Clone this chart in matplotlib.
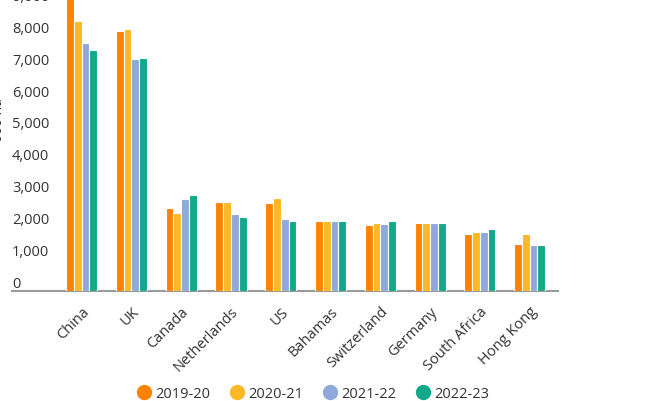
import matplotlib
matplotlib.use("Agg")
import matplotlib.pyplot as plt
from matplotlib.lines import Line2D
import numpy as np

plt.rcParams['font.family'] = ['Open Sans', 'DejaVu Sans']

categories = ["China", "UK", "Canada", "Netherlands", "US", "Bahamas",
              "Switzerland", "Germany", "South Africa", "Hong Kong"]
series_names = ["2019-20", "2020-21", "2021-22", "2022-23"]
v2019 = [9400, 8150, 2610, 2800, 2750, 2190, 2080, 2130, 1800, 1460]
v2020 = [8460, 8210, 2450, 2800, 2920, 2190, 2140, 2130, 1860, 1790]
v2021 = [7780, 7270, 2880, 2400, 2250, 2190, 2110, 2130, 1860, 1430]
v2022 = [7550, 7300, 3000, 2330, 2200, 2190, 2180, 2130, 1930, 1430]
series = [v2019, v2020, v2021, v2022]
colors = ["#FF8300", "#FDB825", "#8EA9DB", "#12A98B"]
yticks = [0, 1000, 2000, 3000, 4000, 5000, 6000, 7000, 8000, 9000]
ylabel = "'000 ha"

W, H = 652, 402
fig = plt.figure(figsize=(W / 100, H / 100), dpi=100)
left, right = 12 / W, 558 / W
bottom = 1 - 292 / H
top = 1 + 27 / H
ax = fig.add_axes([left, bottom, right - left, top - bottom])
ax.set_facecolor('none')

x = np.arange(len(categories))
bw = 0.156
for i, (vals, c) in enumerate(zip(series, colors)):
    ax.bar(x + (i - 1.5) * bw, vals, width=bw, color=c, edgecolor='white',
           linewidth=0.8, zorder=3)

ax.set_xlim(-1.40, 9.57)
ax.set_ylim(0, 10000)

for s in ['top', 'right', 'left']:
    ax.spines[s].set_visible(False)
ax.spines['bottom'].set_color('#9a9a9a')
ax.spines['bottom'].set_linewidth(1.5)

ax.set_yticks(yticks)
ax.set_yticklabels([f"{v:,}" for v in yticks])
ax.tick_params(axis='y', length=0, pad=0, labelsize=10.5, labelcolor='#333333')
for lbl in ax.get_yticklabels():
    lbl.set_ha('left')
    lbl.set_va('bottom')

ax.set_xticks(x)
ax.set_xticklabels(categories, rotation=45, ha='right', va='top',
                   rotation_mode='anchor')
ax.tick_params(axis='x', length=0, pad=9, labelsize=10.5, labelcolor='#333333')

fig.text(-0.002, 1 - 122 / H, ylabel, rotation=90, ha='center', va='center',
         fontsize=10, color='#333333')

handles = [Line2D([0], [0], marker='o', linestyle='none', markersize=10,
                  markerfacecolor=c, markeredgecolor=c) for c in colors]
fig.legend(handles, series_names, loc='center', ncol=4,
           bbox_to_anchor=(313 / W, 1 - 395 / H), frameon=False,
           fontsize=10.5, handletextpad=0.3, columnspacing=1.3,
           handlelength=1.0, labelcolor='#333333')

fig.savefig("out.png", dpi=100)
